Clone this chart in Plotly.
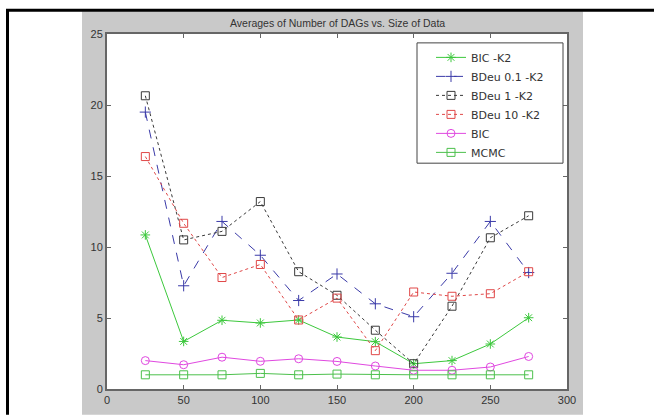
import plotly.graph_objects as go

sizes = [25, 50, 75, 100, 125, 150, 175, 200, 225, 250, 275]
bic_k2 = [10.85, 3.35, 4.84, 4.65, 4.86, 3.66, 3.33, 1.78, 2.0, 3.17, 5.02]
bdeu01_k2 = [19.5, 7.27, 11.8, 9.42, 6.23, 8.1, 6.0, 5.09, 8.15, 11.8, 8.2]
bdeu1_k2 = [20.65, 10.5, 11.1, 13.2, 8.26, 6.6, 4.14, 1.78, 5.83, 10.65, 12.2]
bdeu10_k2 = [16.37, 11.67, 7.85, 8.77, 4.86, 6.4, 2.7, 6.83, 6.53, 6.71, 8.26]
bic = [2.0, 1.71, 2.24, 1.95, 2.13, 1.94, 1.62, 1.32, 1.32, 1.55, 2.29]
mcmc = [1.0, 1.0, 1.0, 1.1, 1.0, 1.05, 1.0, 1.0, 1.0, 1.0, 1.0]

series = [
    ("BIC -K2", bic_k2, "#3cc83c", "solid", "asterisk-open"),
    ("BDeu 0.1 -K2", bdeu01_k2, "#3a3aa8", "dash", "cross-thin-open"),
    ("BDeu 1 -K2", bdeu1_k2, "#3a3a3a", "dot", "square-open"),
    ("BDeu 10 -K2", bdeu10_k2, "#e04848", "dot", "square-open"),
    ("BIC", bic, "#e048e0", "solid", "circle-open"),
    ("MCMC", mcmc, "#4cc04c", "solid", "square-open"),
]

fig = go.Figure()
for name, vals, col, dash, sym in series:
    fig.add_trace(go.Scatter(
        x=sizes, y=vals, name=name, mode="lines+markers",
        line=dict(color=col, width=1, dash=dash),
        marker=dict(symbol=sym, size=8, color=col, line=dict(color=col, width=1)),
    ))

W, H = 654, 418
L, R, T, B = 107, 567, 34, 394
pw, ph = R - L, B - T

def px(x):
    return (x - L) / pw

def py(y):
    return (B - y) / ph

shapes = [
    dict(type="rect", xref="paper", yref="paper", x0=px(82), x1=px(583), y0=py(420), y1=py(11),
         fillcolor="#c9c9c9", line=dict(width=0), layer="below"),
    dict(type="rect", xref="paper", yref="paper", x0=0, x1=1, y0=0, y1=1,
         fillcolor="white", line=dict(width=0), layer="below"),
    dict(type="rect", xref="paper", yref="paper", x0=px(417), x1=px(563), y0=py(165), y1=py(43),
         fillcolor="white", line=dict(color="#444444", width=1), layer="above"),
    dict(type="line", xref="paper", yref="paper", x0=px(7.5), x1=px(7.5), y0=py(9), y1=py(420),
         line=dict(color="black", width=3)),
    dict(type="line", xref="paper", yref="paper", x0=px(6), x1=px(656), y0=py(10), y1=py(10),
         line=dict(color="black", width=3)),
]

axis_common = dict(
    showgrid=False, zeroline=False, showline=True, linecolor="#666666", linewidth=2,
    mirror="ticks", ticks="inside", ticklen=4, tickcolor="#666666",
    tickfont=dict(family="Liberation Sans, Arial", size=11, color="#333333"),
)

fig.update_layout(
    width=W, height=H,
    margin=dict(l=L, r=W - R, t=T, b=H - B, pad=0),
    paper_bgcolor="white", plot_bgcolor="white",
    shapes=shapes,
    xaxis=dict(range=[0, 300], tickvals=[0, 50, 100, 150, 200, 250, 300], **axis_common),
    yaxis=dict(range=[0, 25], tickvals=[0, 5, 10, 15, 20, 25], **axis_common),
    showlegend=True,
    legend=dict(
        x=px(431), y=py(43), xanchor="left", yanchor="top",
        bgcolor="rgba(0,0,0,0)", borderwidth=0,
        font=dict(family="DejaVu Sans", size=11, color="#333333"),
        tracegroupgap=0,
    ),
    annotations=[dict(
        text="Averages of Number of DAGs vs. Size of Data", xref="paper", yref="paper",
        x=0.5, y=py(23), xanchor="center", yanchor="middle", showarrow=False,
        font=dict(family="Liberation Sans, Arial", size=10.5, color="#333333"),
    )],
)

fig.write_html("out.html", config={"displayModeBar": False},
               post_script="document.body.style.margin='0';")
